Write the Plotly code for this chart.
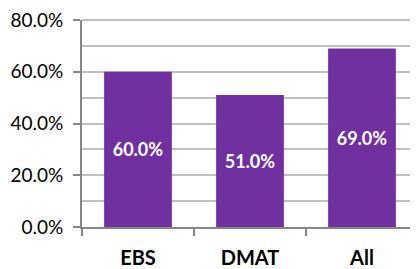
import plotly.graph_objects as go

categories = ["EBS", "DMAT", "All"]
values = [60.0, 51.0, 69.0]
y_ticks = [0, 20, 40, 60, 80]
y_tick_labels = ["0.0%", "20.0%", "40.0%", "60.0%", "80.0%"]

BAR = "#7030A0"
AXIS = "#868686"
GRID = "#C0C0C0"
FONT = "Lato"

fig = go.Figure(
    go.Bar(
        x=categories,
        y=values,
        marker=dict(color=BAR, line=dict(width=0)),
        texttemplate="<b>%{y:.1f}%</b>",
        textposition="inside",
        insidetextanchor="middle",
        textangle=0,
        textfont=dict(family=FONT, size=18, color="white"),
        hoverinfo="skip",
    )
)

# page body has an 8px margin, so the figure is sized and placed to compensate
fig.update_layout(
    width=410,
    height=261,
    margin=dict(l=74, r=0, t=12, b=40),
    paper_bgcolor="white",
    plot_bgcolor="white",
    bargap=0.395,
    showlegend=False,
    uniformtext=dict(minsize=8, mode="show"),
    font=dict(family=FONT, color="black"),
)

# gridline along the top of the value range (top of plot area = max tick)
fig.add_shape(
    type="line",
    xref="paper", x0=0, x1=1,
    yref="paper", y0=1, y1=1,
    line=dict(color=GRID, width=2),
    layer="above",
)

fig.update_yaxes(
    range=[0, max(y_ticks)],
    tickvals=y_ticks,
    ticktext=y_tick_labels,
    ticks="outside",
    ticklen=7,
    tickwidth=2,
    tickcolor=AXIS,
    showline=True,
    linecolor=AXIS,
    linewidth=2,
    showgrid=True,
    gridcolor=GRID,
    gridwidth=2,
    zeroline=False,
    tickfont=dict(family=FONT, size=19, color="black"),
    ticklabelstandoff=6,
    ticklabeloverflow="allow",
    minor=dict(dtick=10, showgrid=True, gridcolor=GRID, gridwidth=2, ticks=""),
    fixedrange=True,
)

fig.update_xaxes(
    showline=True,
    linecolor=AXIS,
    linewidth=2,
    ticks="outside",
    tickson="boundaries",
    ticklen=7,
    tickwidth=2,
    tickcolor=AXIS,
    showgrid=False,
    tickfont=dict(family=FONT, size=20, color="black", weight="bold"),
    ticklabelstandoff=12,
    ticklabeloverflow="allow",
    fixedrange=True,
)

fig.write_html("out.html")
